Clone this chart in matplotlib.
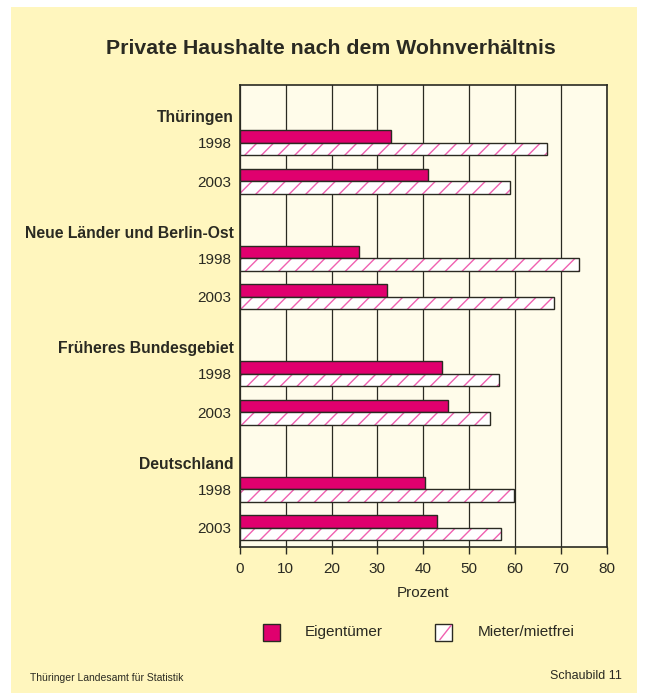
import matplotlib.pyplot as plt
from matplotlib.patches import Rectangle
from matplotlib.lines import Line2D
import numpy as np

plt.rcParams['font.family'] = ['Liberation Sans', 'DejaVu Sans']
plt.rcParams['hatch.linewidth'] = 1.0

# Data (Prozent)
regions = ['Thüringen', 'Neue Länder und Berlin-Ost',
           'Früheres Bundesgebiet', 'Deutschland']
years = ['1998', '2003']
eigentuemer = [33, 41, 26, 32, 44, 45.5, 40.3, 43]
mieter = [67, 59, 74, 68.5, 56.5, 54.5, 59.7, 57]
series_names = ['Eigentümer', 'Mieter/mietfrei']

yellow = '#FFF6BE'
plot_bg = '#FFFCEA'
magenta = '#E0006E'
hatch_pink = '#F060B0'
dark = '#2a2a22'

W, H = 647, 700
fig = plt.figure(figsize=(W / 100, H / 100), dpi=100, facecolor='white')
fig.patches.append(Rectangle((11 / W, 1 - 693 / H), 626 / W, 686 / H,
                             transform=fig.transFigure, facecolor=yellow,
                             edgecolor='none', zorder=-10))

ax = fig.add_axes([240 / W, 1 - 547 / H, 366.5 / W, 462 / H])
ax.set_facecolor(plot_bg)

# row positions: group label row, then one row per year
year_pos = []
for g in range(len(regions)):
    for k in range(len(years)):
        year_pos.append(g * 3 + 1.5 + k)
year_pos = np.array(year_pos)
h = 0.33

ax.barh(year_pos - h / 2, eigentuemer, height=h, color=magenta,
        edgecolor=dark, linewidth=1, zorder=3)
ax.barh(year_pos + h / 2, mieter, height=h, color='white',
        edgecolor=hatch_pink, hatch='//', linewidth=0, zorder=3)
ax.barh(year_pos + h / 2, mieter, height=h, color='none',
        edgecolor=dark, linewidth=1, zorder=4)

ax.set_xlim(0, 80)
ax.set_ylim(12, 0)
ax.set_xticks(np.arange(0, 81, 10))
ax.set_yticks(year_pos)
ax.set_yticklabels(years * len(regions))
ax.tick_params(axis='y', length=0, pad=6, labelsize=11, labelcolor=dark)
ax.tick_params(axis='x', length=5, width=1, color=dark, labelsize=11,
               labelcolor=dark, pad=6)
ax.grid(axis='x', color=dark, linewidth=0.9, zorder=1)
ax.set_axisbelow(True)
for s in ax.spines.values():
    s.set_color(dark)
    s.set_linewidth(1.2)

for g, name in enumerate(regions):
    ax.text(-1.3, g * 3 + 0.85, name, ha='right', va='center',
            fontsize=11.3, fontweight='bold', color=dark, clip_on=False)

ax.set_xlabel('Prozent', fontsize=11, color=dark, labelpad=7)

fig.text(331 / W, 1 - 48 / H, 'Private Haushalte nach dem Wohnverhältnis',
         ha='center', va='center', fontsize=15.3, fontweight='bold', color=dark)

# legend drawn by hand (square + text)
sq = 17
leg_y = 632
for x0, tx, name, hatched in [(263, 305, series_names[0], False),
                              (435, 478, series_names[1], True)]:
    fig.patches.append(Rectangle((x0 / W, 1 - (leg_y + sq / 2) / H), sq / W, sq / H,
                                 transform=fig.transFigure,
                                 facecolor='white' if hatched else magenta,
                                 edgecolor=dark, linewidth=1))
    if hatched:
        fig.lines.append(Line2D([(x0 + 5) / W, (x0 + sq - 1) / W],
                                [1 - (leg_y + sq / 2 - 1) / H, 1 - (leg_y - sq / 2 + 2) / H],
                                transform=fig.transFigure, color=hatch_pink, lw=1))
    fig.text(tx / W, 1 - leg_y / H, name, ha='left', va='center',
             fontsize=11, color=dark)

fig.text(30 / W, 1 - 678 / H, 'Thüringer Landesamt für Statistik',
         ha='left', va='center', fontsize=7.5, color=dark)
fig.text(622 / W, 1 - 676 / H, 'Schaubild 11',
         ha='right', va='center', fontsize=9, color=dark)

fig.savefig('out.png', dpi=100, facecolor='white')
